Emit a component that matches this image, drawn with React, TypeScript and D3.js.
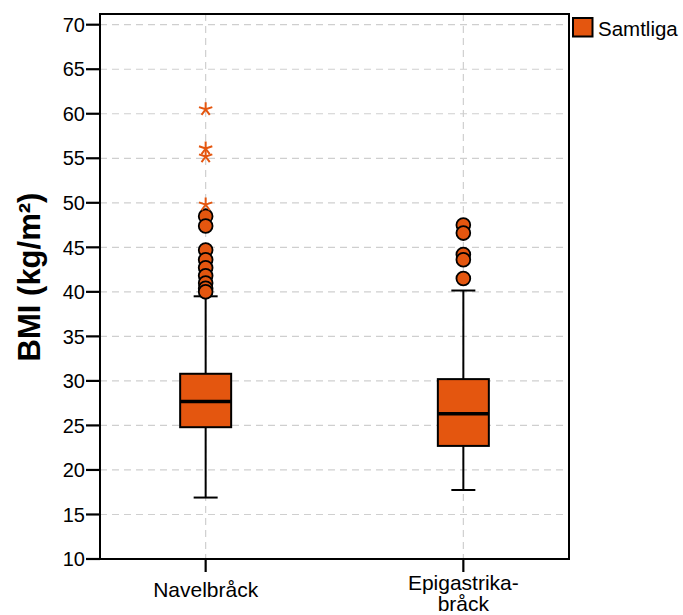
import React from "react";
import * as d3 from "d3";

const categories = ["Navelbråck", "Epigastrika-bråck"];
const categoryLines = [["Navelbråck"], ["Epigastrika-", "bråck"]];
const q1 = [24.8, 22.7];
const median = [27.7, 26.3];
const q3 = [30.8, 30.2];
const whiskerLow = [16.9, 17.75];
const whiskerHigh = [39.5, 40.15];
const outliersNavel = [48.5, 47.4, 44.7, 43.6, 42.7, 41.8, 41.0, 40.4, 40.0];
const outliersEpi = [47.5, 46.6, 44.2, 43.6, 41.5];
const extremesNavel = [60.5, 56.1, 55.2, 49.8];
const extremesEpi: number[] = [];
const outliers = [outliersNavel, outliersEpi];
const extremes = [extremesNavel, extremesEpi];
const yTicks = [10, 15, 20, 25, 30, 35, 40, 45, 50, 55, 60, 65, 70];
const legendLabel = "Samtliga";

const W = 683, H = 615;
const left = 100, right = 569, top = 14, bottom = 559;
const fill = "#E4560F";
const font = "'Liberation Sans', Arial, sans-serif";

function asterisk(cx: number, cy: number, r: number) {
  let d = "";
  for (let i = 0; i < 5; i++) {
    const a = -Math.PI / 2 + (i * 2 * Math.PI) / 5;
    d += `M${cx},${cy}L${cx + r * Math.cos(a)},${cy + r * Math.sin(a)}`;
  }
  return d;
}

export default function App() {
  const y = d3.scaleLinear().domain([10, 70]).range([bottom, 24.7]);
  const x = d3.scalePoint<string>().domain(categories).range([left, right]).padding(0.41);
  const bw = 51;
  return (
    <svg width={W} height={H} style={{ position: "absolute", left: 0, top: 0 }} fontFamily={font}>
      {yTicks.filter(t => t > 10).map(t => (
        <line key={"g" + t} x1={left} x2={right} y1={y(t)} y2={y(t)} stroke="#cfcfcf" strokeWidth={1.2} strokeDasharray="7,5" />
      ))}
      {categories.map(c => (
        <line key={"v" + c} x1={x(c)} x2={x(c)} y1={top} y2={bottom} stroke="#cfcfcf" strokeWidth={1.2} strokeDasharray="7,5" />
      ))}
      {categories.map((c, i) => {
        const cx = x(c)!;
        return (
          <g key={c}>
            <line x1={cx} x2={cx} y1={y(whiskerHigh[i])} y2={y(q3[i])} stroke="#000" strokeWidth={2} />
            <line x1={cx} x2={cx} y1={y(q1[i])} y2={y(whiskerLow[i])} stroke="#000" strokeWidth={2} />
            <line x1={cx - 12} x2={cx + 12} y1={y(whiskerHigh[i])} y2={y(whiskerHigh[i])} stroke="#000" strokeWidth={2} />
            <line x1={cx - 12} x2={cx + 12} y1={y(whiskerLow[i])} y2={y(whiskerLow[i])} stroke="#000" strokeWidth={2} />
            <rect x={cx - bw / 2} y={y(q3[i])} width={bw} height={y(q1[i]) - y(q3[i])} fill={fill} stroke="#000" strokeWidth={2} />
            <line x1={cx - bw / 2} x2={cx + bw / 2} y1={y(median[i])} y2={y(median[i])} stroke="#000" strokeWidth={3.5} />
            {outliers[i].map((v, k) => (
              <circle key={k} cx={cx} cy={y(v)} r={6.9} fill={fill} stroke="#000" strokeWidth={1.8} />
            ))}
            {extremes[i].map((v, k) => (
              <path key={k} d={asterisk(cx, y(v), 7)} stroke={fill} strokeWidth={2} fill="none" />
            ))}
          </g>
        );
      })}
      <rect x={left} y={top} width={right - left} height={bottom - top} fill="none" stroke="#000" strokeWidth={2} />
      {yTicks.map(t => (
        <g key={"t" + t}>
          <line x1={left - 14} x2={left} y1={y(t)} y2={y(t)} stroke="#000" strokeWidth={2.2} />
          <text x={left - 15} y={y(t)} dy="0.36em" textAnchor="end" fontSize={20} fill="#000">{t}</text>
        </g>
      ))}
      {categories.map((c, i) => {
        const lines = categoryLines[i];
        const base = lines.length === 1 ? 597 : 590;
        return (
          <g key={"xl" + c}>
            <line x1={x(c)} x2={x(c)} y1={bottom} y2={bottom + 13} stroke="#000" strokeWidth={2.2} />
            {lines.map((ln, k) => (
              <text key={k} x={x(c)} y={base + k * 21} textAnchor="middle" fontSize={21} fill="#000">{ln}</text>
            ))}
          </g>
        );
      })}
      <text transform={`translate(39.5,277) rotate(-90)`} textAnchor="middle" fontSize={31} fontWeight="bold" fill="#000">
        BMI (kg/m²)
      </text>
      <rect x={573} y={18} width={19.5} height={18.5} fill={fill} stroke="#000" strokeWidth={2} />
      <text x={598} y={36} fontSize={20.5} fill="#000">{legendLabel}</text>
    </svg>
  );
}
